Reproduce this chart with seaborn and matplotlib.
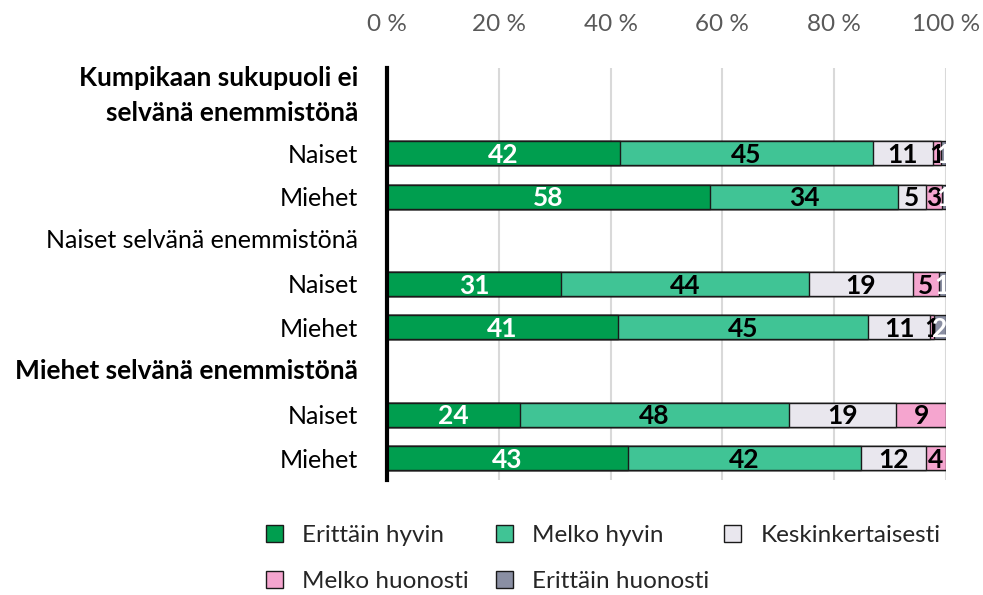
import numpy as np
import pandas as pd
import matplotlib
matplotlib.use("Agg")
import matplotlib.pyplot as plt
from matplotlib.patches import Patch
from matplotlib.transforms import blended_transform_factory
import seaborn as sns

# Row keys (top to bottom), shown labels and which rows are group headers
row_keys = ["h1", "n1", "m1", "h2", "n2", "m2", "h3", "n3", "m3"]
row_labels = ["Kumpikaan sukupuoli ei\nselvänä enemmistönä", "Naiset", "Miehet",
              "Naiset selvänä enemmistönä", "Naiset", "Miehet",
              "Miehet selvänä enemmistönä", "Naiset", "Miehet"]
header_bold = {"h1": True, "h2": False, "h3": True}

bar_rows = ["n1", "m1", "n2", "m2", "n3", "m3"]
categories = ["Erittäin hyvin", "Melko hyvin", "Keskinkertaisesti",
              "Melko huonosti", "Erittäin huonosti"]
erittain_hyvin = [41.7, 57.8, 31.1, 41.3, 23.8, 43.1]
melko_hyvin = [45.2, 33.6, 44.4, 44.7, 48.1, 41.7]
keskinkertaisesti = [10.8, 5.0, 18.6, 11.2, 19.2, 11.6]
melko_huonosti = [1.4, 2.9, 4.6, 0.6, 8.9, 3.6]
erittain_huonosti = [0.9, 0.7, 1.3, 2.2, 0.0, 0.0]

tick_values = [0, 20, 40, 60, 80, 100]
tick_labels = ["0 %", "20 %", "40 %", "60 %", "80 %", "100 %"]

colors = ["#009E4F", "#40C495", "#E9E7EE", "#F5A5CF", "#8A8FA3"]
label_colors = ["white", "black", "black", "black", "white"]

series = [erittain_hyvin, melko_hyvin, keskinkertaisesti, melko_huonosti, erittain_huonosti]
values = np.array(series)          # shape (5, 6)
cum = np.cumsum(values, axis=0)

rows = []
for ci, cat in enumerate(categories):
    for ri, key in enumerate(bar_rows):
        rows.append({"row": key, "category": cat, "value": values[ci, ri],
                     "end": cum[ci, ri]})
df = pd.DataFrame(rows)

sns.set_theme(style="white")
plt.rcParams["font.family"] = ["Lato", "DejaVu Sans"]

fig = plt.figure(figsize=(9.83, 5.95), dpi=100)
ax = fig.add_axes([387 / 983, 1 - 480 / 595, (946 - 387) / 983, (480 - 68) / 595])

# Stacked bars: draw cumulative totals from the outermost segment inwards
for ci in range(len(categories) - 1, -1, -1):
    sub = df[df["category"] == categories[ci]]
    sns.barplot(data=sub, x="end", y="row", order=row_keys, orient="h",
                color=colors[ci], saturation=1, width=0.55,
                edgecolor="#1a1a1a", linewidth=1.0, ax=ax)

# Segment labels
key_pos = {k: i for i, k in enumerate(row_keys)}
for ci in range(len(categories)):
    for ri, key in enumerate(bar_rows):
        v = values[ci, ri]
        if round(v) < 1:
            continue
        xc = cum[ci, ri] - v / 2
        ax.text(xc, key_pos[key] + 0.04, f"{round(v)}", ha="center", va="center",
                fontsize=19, fontweight="bold", color=label_colors[ci])

ax.set_xlim(0, 100)
ax.set_ylim(8.5, -0.95)
ax.xaxis.tick_top()
ax.set_xticks(tick_values)
ax.set_xticklabels(tick_labels, fontsize=17.5, color="#595959")
ax.tick_params(axis="x", length=0, pad=24)
ax.set_xlabel("")
ax.set_ylabel("")
ax.grid(axis="x", color="#D9D9D9", linewidth=1.5)
ax.set_axisbelow(True)
for s in ["top", "right", "bottom"]:
    ax.spines[s].set_visible(False)
ax.spines["left"].set_color("black")
ax.spines["left"].set_linewidth(3)

# Row labels
ax.set_yticks(range(len(row_keys)))
ax.set_yticklabels([lab if k not in header_bold else "" for k, lab in zip(row_keys, row_labels)],
                   fontsize=18, color="black")
ax.tick_params(axis="y", length=0, pad=21)
trans = blended_transform_factory(ax.transAxes, ax.transData)
for k, lab in zip(row_keys, row_labels):
    if k in header_bold:
        bold = header_bold[k]
        y = key_pos[k] - (0.33 if "\n" in lab else 0)
        ax.text(-29 / 559, y, lab, transform=trans, ha="right", va="center",
                fontsize=19 if bold else 18, fontweight="bold" if bold else "normal",
                color="black", linespacing=1.55)

# Legend laid out on a fixed grid: one single-column legend per slot
handles = [Patch(facecolor=c, edgecolor="#1a1a1a", linewidth=1.0, label=l)
           for c, l in zip(colors, categories)]
legend_columns = [[0, 3], [1, 4], [2]]
column_x = [266, 496, 724]
for idxs, x0 in zip(legend_columns, column_x):
    leg = fig.legend(handles=[handles[i] for i in idxs], ncol=1, loc="upper left",
                     bbox_to_anchor=(x0 / 983, 1 - 525 / 595),
                     borderaxespad=0, borderpad=0,
                     frameon=False, fontsize=17.5, handlelength=0.7, handleheight=0.7,
                     handletextpad=0.8, labelspacing=1.02)

fig.savefig("out.png", dpi=100)
